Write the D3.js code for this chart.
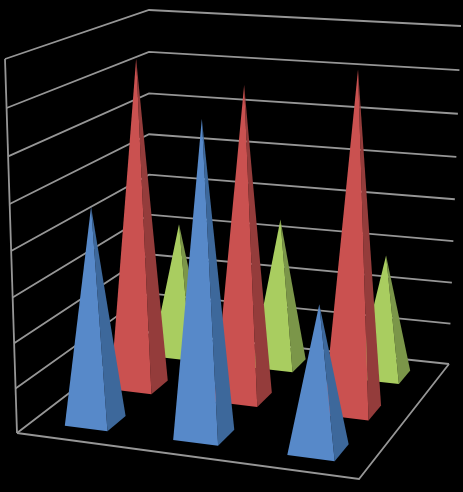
<!DOCTYPE html>
<html>
<head>
<meta charset="utf-8">
<script src="https://cdn.jsdelivr.net/npm/d3@7"></script>
<style>
    html, body { margin: 0; padding: 0; background: #000; }
    svg { display: block; }
</style>
</head>
<body>
<svg id="chart" width="463" height="492"></svg>
<script>
// Data
const categories = ['A', 'B', 'C'];
const seriesNames = ['Green', 'Red', 'Blue']; // back row first
const greenValues = [3.17, 3.5, 2.87];
const redValues = [7.5, 7.07, 7.55];
const blueValues = [4.76, 6.8, 3.15];
const valueTicks = [0, 1, 2, 3, 4, 5, 6, 7, 8];

const seriesValues = { Green: greenValues, Red: redValues, Blue: blueValues };
const faceColors = {
    Green: ['#a9cd60', '#7b9649'],
    Red: ['#ca5150', '#943c3b'],
    Blue: ['#5789c9', '#3d689b']
};

// Scales (unit box: u along the front, v into the depth, w upwards)
const uScale = d3.scaleBand().domain(categories).range([0, 1]).paddingInner(0.6).paddingOuter(0.3).align(0.52);
const vScale = d3.scaleBand().domain(seriesNames).range([1, 0]).paddingInner(0.6).paddingOuter(0.3);
const wScale = d3.scaleLinear().domain([0, 8]).range([0, 1]);

// Camera: floor quad -> homography, then the height column fitted on the top corners
const floorQuad = [[17, 433], [359, 479], [449, 364], [149, 332]];
const topFrontLeft = [5, 59], topBackLeft = [149, 10], topBackRight = [461, 26];
const project = buildProjection(floorQuad, [[0, 0, topFrontLeft], [0, 1, topBackLeft], [1, 1, topBackRight]]);

function buildProjection(q, tops) {
    const [[x0, y0], [x1, y1], [x2, y2], [x3, y3]] = q;
    const sx = x0 - x1 + x2 - x3, sy = y0 - y1 + y2 - y3;
    const dx1 = x1 - x2, dx2 = x3 - x2, dy1 = y1 - y2, dy2 = y3 - y2;
    const den = dx1 * dy2 - dx2 * dy1;
    const g = (sx * dy2 - dx2 * sy) / den;
    const h = (dx1 * sy - sx * dy1) / den;
    const a = x1 - x0 + g * x1, b = x3 - x0 + h * x3;
    const d = y1 - y0 + g * y1, e = y3 - y0 + h * y3;
    const base = (u, v) => [a * u + b * v + x0, d * u + e * v + y0, g * u + h * v + 1];

    // r comes from the spread of the walls in x, y just borrows it
    const rows = tops.map(t => {
        const k = base(t[0], t[1]);
        return { T: t[2][0], lhs: t[2][0] * k[2] - k[0] };
    });
    const mt = d3.mean(rows, o => o.T), ml = d3.mean(rows, o => o.lhs);
    const r = -d3.sum(rows, o => (o.T - mt) * (o.lhs - ml)) / d3.sum(rows, o => (o.T - mt) ** 2);
    const shift = c => d3.mean(tops, t => {
        const k = base(t[0], t[1]);
        return t[2][c] * (k[2] + r) - k[c];
    });
    const px = shift(0), py = shift(1);
    const raw = (u, v, w) => {
        const k = base(u, v);
        const n = k[2] + r * w;
        return [(k[0] + px * w) / n, (k[1] + py * w) / n];
    };

    // whatever the fit misses at the three top corners is spread over the box, scaled by height
    const miss = tops.map(t => {
        const m = raw(t[0], t[1], 1);
        return [t[2][0] - m[0], t[2][1] - m[1]];
    });
    return (u, v, w) => {
        const m = raw(u, v, w);
        return [0, 1].map(c =>
            m[c] + w * (miss[0][c] + v * (miss[1][c] - miss[0][c]) + u * (miss[2][c] - miss[1][c])));
    };
}

const svg = d3.select('#chart');
const closedPath = d3.line().curve(d3.curveLinearClosed);
const openPath = d3.line();

// Gridlines
const grid = svg.append('g')
    .attr('fill', 'none')
    .attr('stroke', '#969696')
    .attr('stroke-width', 1.8);

valueTicks.forEach(t => {
    const w = wScale(t);
    grid.append('path').attr('d', openPath([project(0, 0, w), project(0, 1, w), project(1, 1, w)]));
});
grid.append('path').attr('d', openPath([project(0, 0, 0), project(0, 0, 1)]));
grid.append('path').attr('d', openPath([project(0, 0, 0), project(1, 0, 0), project(1, 1, 0)]));

// Pyramids, back row first
seriesNames.forEach(name => {
    const bw = uScale.bandwidth();
    const bd = vScale.bandwidth();
    categories.forEach((cat, i) => {
        const u0 = uScale(cat);
        const v0 = vScale(name);
        const apex = project(u0 + bw / 2, v0 + bd / 2, wScale(seriesValues[name][i]));
        const frontLeft = project(u0, v0, 0);
        const frontRight = project(u0 + bw, v0, 0);
        const backRight = project(u0 + bw, v0 + bd, 0);

        svg.append('path').attr('d', closedPath([frontRight, backRight, apex])).attr('fill', faceColors[name][1]);
        svg.append('path').attr('d', closedPath([frontLeft, frontRight, apex])).attr('fill', faceColors[name][0]);
    });
});
</script>
</body>
</html>
